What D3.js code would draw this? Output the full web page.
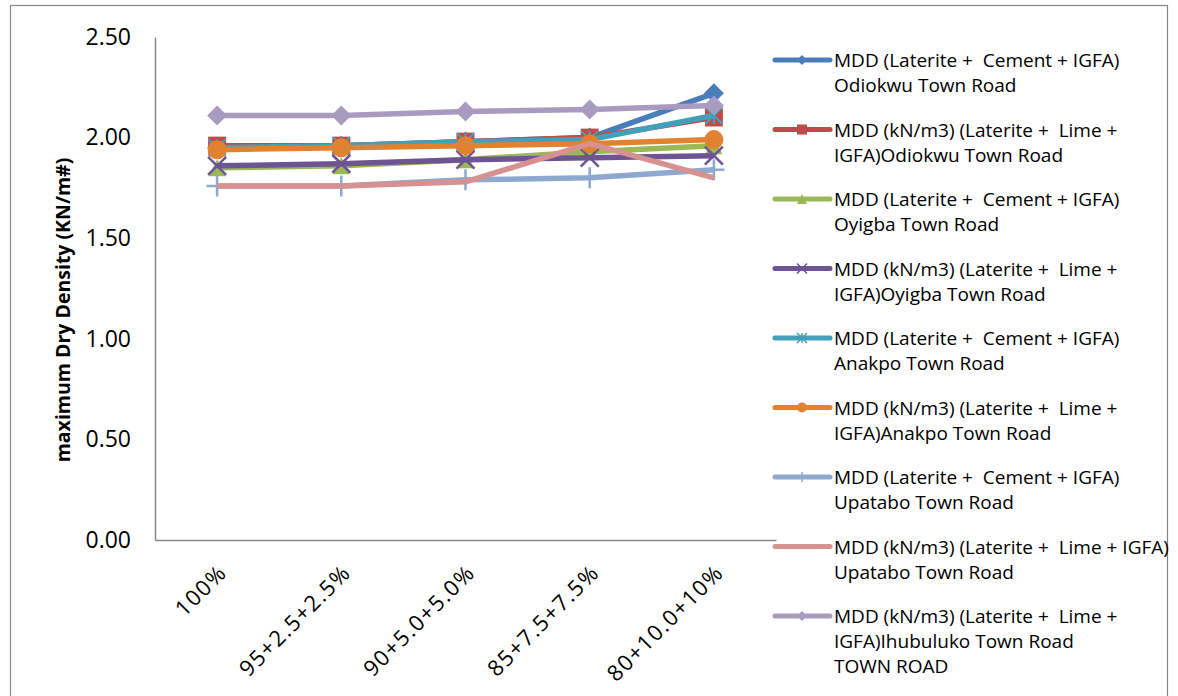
<!DOCTYPE html>
<html>
<head>
<meta charset="utf-8">
<script src="https://cdn.jsdelivr.net/npm/d3@7"></script>
<style>
  html, body { margin: 0; padding: 0; background: #fff; }
  svg { display: block; font-family: "Open Sans", Lato, sans-serif; }
  .pre { white-space: pre; }
</style>
</head>
<body>
<svg id="chart" width="1178" height="696"></svg>
<script>
// Mix proportions along the x axis
const categories = ["100%", "95+2.5+2.5%", "90+5.0+5.0%", "85+7.5+7.5%", "80+10.0+10%"];

// Maximum dry density per road and stabiliser
const odiokwuCement  = [1.95, 1.96, 1.98, 2.00, 2.22];
const odiokwuLime    = [1.96, 1.96, 1.98, 2.00, 2.10];
const oyigbaCement   = [1.85, 1.86, 1.89, 1.93, 1.96];
const oyigbaLime     = [1.86, 1.87, 1.89, 1.90, 1.91];
const anakpoCement   = [1.95, 1.96, 1.98, 1.99, 2.11];
const anakpoLime     = [1.94, 1.95, 1.96, 1.97, 1.99];
const upataboCement  = [1.76, 1.76, 1.79, 1.80, 1.84];
const upataboLime    = [1.76, 1.76, 1.78, 1.97, 1.80];
const ihubulukoLime  = [2.11, 2.11, 2.13, 2.14, 2.16];

const yTicks = [0, 0.5, 1.0, 1.5, 2.0, 2.5];

const seriesNames = [
  ["MDD (Laterite +  Cement + IGFA)", "Odiokwu Town Road"],
  ["MDD (kN/m3) (Laterite +  Lime +", "IGFA)Odiokwu Town Road"],
  ["MDD (Laterite +  Cement + IGFA)", "Oyigba Town Road"],
  ["MDD (kN/m3) (Laterite +  Lime +", "IGFA)Oyigba Town Road"],
  ["MDD (Laterite +  Cement + IGFA)", "Anakpo Town Road"],
  ["MDD (kN/m3) (Laterite +  Lime +", "IGFA)Anakpo Town Road"],
  ["MDD (Laterite +  Cement + IGFA)", "Upatabo Town Road"],
  ["MDD (kN/m3) (Laterite +  Lime + IGFA)", "Upatabo Town Road"],
  ["MDD (kN/m3) (Laterite +  Lime +", "IGFA)Ihubuluko Town Road", "TOWN ROAD"]
];

const seriesValues = [odiokwuCement, odiokwuLime, oyigbaCement, oyigbaLime,
  anakpoCement, anakpoLime, upataboCement, upataboLime, ihubulukoLime];

const seriesColors = ["#4A7EBB", "#BE4B48", "#98B954", "#6E5494", "#43A0BA",
  "#E0822F", "#8FA8D0", "#D69190", "#A99BBF"];

const seriesMarkers = ["diamond", "square", "triangle", "x", "asterisk", "circle", "plus", "none", "diamond"];

const series = seriesNames.map((name, i) => ({
  name, values: seriesValues[i], color: seriesColors[i], marker: seriesMarkers[i]
}));

const svg = d3.select("#chart");

// outer chart frame
svg.append("rect")
  .attr("x", 10.5).attr("y", 5.5).attr("width", 1157).attr("height", 720)
  .attr("fill", "none").attr("stroke", "#868686").attr("stroke-width", 1.2);

const plot = { left: 155, right: 776, top: 37, bottom: 540 };

const x = d3.scaleBand().domain(categories).range([plot.left, plot.right]);
const y = d3.scaleLinear().domain([0, 2.5]).range([plot.bottom, plot.top]);
const cx = c => x(c) + x.bandwidth() / 2;

// y axis
const yAxis = svg.append("g")
  .attr("transform", `translate(${plot.left},0)`)
  .call(d3.axisLeft(y).tickValues(yTicks).tickFormat(d3.format(".2f")).tickSize(0).tickPadding(24));
yAxis.select(".domain").attr("stroke", "#868686").attr("stroke-width", 1.5);
yAxis.selectAll("text").attr("font-size", 23).attr("fill", "#000")
  .style("font-family", "'Open Sans', sans-serif");

// x axis
const xAxis = svg.append("g")
  .attr("transform", `translate(0,${plot.bottom})`)
  .call(d3.axisBottom(x).tickSize(0).tickPadding(0));
xAxis.select(".domain").attr("stroke", "#868686").attr("stroke-width", 1.5);
xAxis.selectAll("text")
  .attr("font-size", 22).attr("fill", "#000")
  .attr("text-anchor", "end")
  .attr("dy", null).attr("y", 0)
  .attr("letter-spacing", 1.5)
  .attr("transform", "translate(11,34) rotate(-45)")
  .style("font-family", "'Open Sans', sans-serif");

// y axis title
svg.append("text")
  .attr("transform", "translate(62,310) rotate(-90)")
  .attr("text-anchor", "middle")
  .attr("dominant-baseline", "central")
  .attr("font-size", 19.5).attr("font-weight", "bold")
  .text("maximum Dry Density (KN/m#)");

function drawMarker(g, type, color, s) {
  const h = s / 2;
  if (type === "diamond") {
    g.append("path").attr("d", `M0,${-h}L${h},0L0,${h}L${-h},0Z`).attr("fill", color);
  } else if (type === "square") {
    g.append("rect").attr("x", -h).attr("y", -h).attr("width", s).attr("height", s).attr("fill", color);
  } else if (type === "triangle") {
    g.append("path").attr("d", `M0,${-h}L${h},${h}L${-h},${h}Z`).attr("fill", color);
  } else if (type === "circle") {
    g.append("circle").attr("r", h).attr("fill", color);
  } else if (type === "x") {
    g.append("path").attr("d", `M${-h},${-h}L${h},${h}M${h},${-h}L${-h},${h}`)
      .attr("stroke", color).attr("stroke-width", Math.max(1.5, s * 0.14)).attr("fill", "none");
  } else if (type === "asterisk") {
    g.append("path").attr("d", `M${-h},${-h}L${h},${h}M${h},${-h}L${-h},${h}M0,${-h}L0,${h}`)
      .attr("stroke", color).attr("stroke-width", Math.max(1.5, s * 0.12)).attr("fill", "none");
  } else if (type === "plus") {
    g.append("path").attr("d", `M${-h},0L${h},0M0,${-h}L0,${h}`)
      .attr("stroke", color).attr("stroke-width", Math.max(1.5, s * 0.12)).attr("fill", "none");
  }
}

const markerSize = { diamond: 20, square: 18, triangle: 17, circle: 19, x: 18, asterisk: 17, plus: 21, none: 0 };

const line = d3.line().x((d, i) => cx(categories[i])).y(d => y(d));

// series lines with markers
series.forEach(s => {
  const g = svg.append("g");
  g.append("path")
    .attr("d", line(s.values))
    .attr("fill", "none").attr("stroke", s.color)
    .attr("stroke-width", 5.5).attr("stroke-linejoin", "round");
  if (s.marker !== "none") {
    s.values.forEach((v, i) => {
      const m = g.append("g").attr("transform", `translate(${cx(categories[i])},${y(v)})`);
      drawMarker(m, s.marker, s.color, markerSize[s.marker]);
    });
  }
});

// legend
const legend = svg.append("g");
series.forEach((s, i) => {
  const ly = 60 + i * 69.5;
  const g = legend.append("g").attr("transform", `translate(0,${ly})`);
  g.append("line").attr("x1", 775).attr("x2", 830).attr("y1", 0).attr("y2", 0)
    .attr("stroke", s.color).attr("stroke-width", 5).attr("stroke-linecap", "round");
  if (s.marker !== "none") {
    const m = g.append("g").attr("transform", "translate(802,0)");
    drawMarker(m, s.marker, s.color, 10);
  }
  s.name.forEach((t, k) => {
    g.append("text").attr("class", "pre")
      .attr("x", 834).attr("y", k * 25)
      .attr("dominant-baseline", "central")
      .attr("font-size", 19).attr("fill", "#000")
      .text(t);
  });
});
</script>
</body>
</html>
